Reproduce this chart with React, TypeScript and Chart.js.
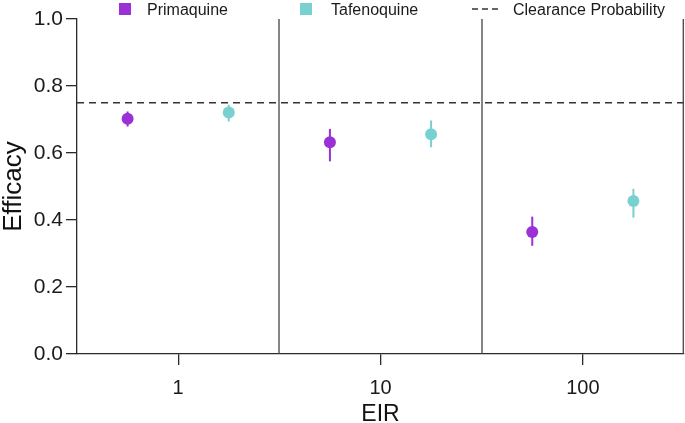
import React, { useEffect, useRef } from "react";
import { Chart, registerables } from "chart.js";

Chart.register(...registerables);

const categories = ["1", "10", "100"];
const primaquine = [0.702, 0.632, 0.364];
const primaquineLow = [0.679, 0.575, 0.323];
const primaquineHigh = [0.724, 0.672, 0.41];
const tafenoquine = [0.721, 0.656, 0.457];
const tafenoquineLow = [0.694, 0.617, 0.407];
const tafenoquineHigh = [0.744, 0.697, 0.493];
const clearanceProbability = 0.75;
const yTicks = [0, 0.2, 0.4, 0.6, 0.8, 1.0];

const PRIM = "#9a30d6";
const TAF = "#78d0d0";
const FONT = '"Liberation Sans", Arial, sans-serif';
const AXIS = "#2a2a2a";

export default function App() {
  const ref = useRef<HTMLCanvasElement | null>(null);

  useEffect(() => {
    document.body.style.margin = "0";
    const canvas = ref.current!;

    const decor = {
      id: "decor",
      beforeDatasetsDraw(chart: any) {
        const { ctx, scales } = chart;
        const xs = scales.x, ys = scales.y;
        ctx.save();
        ctx.lineWidth = 2;
        const bars = [
          { lo: primaquineLow, hi: primaquineHigh, off: 0.25, c: PRIM },
          { lo: tafenoquineLow, hi: tafenoquineHigh, off: 0.75, c: TAF },
        ];
        bars.forEach((b) => {
          ctx.strokeStyle = b.c;
          b.lo.forEach((lo, i) => {
            const x = xs.getPixelForValue(i + b.off);
            ctx.beginPath();
            ctx.moveTo(x, ys.getPixelForValue(lo));
            ctx.lineTo(x, ys.getPixelForValue(b.hi[i]));
            ctx.stroke();
          });
        });
        ctx.restore();
      },
      afterDraw(chart: any) {
        const { ctx, scales, chartArea } = chart;
        const xs = scales.x;
        ctx.save();
        // panel dividers and right border
        ctx.strokeStyle = "#444";
        ctx.lineWidth = 1.3;
        [1, 2, 3].forEach((v) => {
          const x = Math.round(xs.getPixelForValue(v)) - (v === 3 ? 0.7 : 0);
          ctx.beginPath();
          ctx.moveTo(x, chartArea.top);
          ctx.lineTo(x, chartArea.bottom);
          ctx.stroke();
        });
        // axis titles
        ctx.fillStyle = "#111";
        ctx.font = `23px ${FONT}`;
        ctx.textAlign = "center";
        ctx.textBaseline = "alphabetic";
        ctx.fillText("EIR", (chartArea.left + chartArea.right) / 2, 421);
        ctx.save();
        ctx.translate(21, (chartArea.top + chartArea.bottom) / 2);
        ctx.rotate(-Math.PI / 2);
        ctx.font = `26px ${FONT}`;
        ctx.fillText("Efficacy", 0, 0);
        ctx.restore();
        // legend
        ctx.font = `16px ${FONT}`;
        ctx.textAlign = "left";
        ctx.fillStyle = PRIM;
        ctx.fillRect(119, 3, 12, 12);
        ctx.fillStyle = TAF;
        ctx.fillRect(300, 3, 12, 12);
        ctx.strokeStyle = "#333";
        ctx.lineWidth = 1.3;
        ctx.setLineDash([6, 4]);
        ctx.beginPath();
        ctx.moveTo(472, 9);
        ctx.lineTo(501, 9);
        ctx.stroke();
        ctx.setLineDash([]);
        ctx.fillStyle = "#1a1a1a";
        ctx.fillText("Primaquine", 147, 14.5);
        ctx.fillText("Tafenoquine", 331, 14.5);
        ctx.fillText("Clearance Probability", 513, 14.5);
        ctx.restore();
      },
    };

    const chart = new Chart(canvas, {
      type: "scatter",
      data: {
        datasets: [
          {
            type: "line",
            label: "Clearance Probability",
            data: [
              { x: 0, y: clearanceProbability },
              { x: categories.length, y: clearanceProbability },
            ],
            borderColor: "#333",
            borderWidth: 1.5,
            borderDash: [7, 5],
            pointRadius: 0,
            fill: false,
          } as any,
          {
            label: "Primaquine",
            data: primaquine.map((v, i) => ({ x: i + 0.25, y: v })),
            backgroundColor: PRIM,
            borderColor: PRIM,
            pointRadius: 6,
            pointBorderWidth: 0,
          },
          {
            label: "Tafenoquine",
            data: tafenoquine.map((v, i) => ({ x: i + 0.75, y: v })),
            backgroundColor: TAF,
            borderColor: TAF,
            pointRadius: 6,
            pointBorderWidth: 0,
          },
        ],
      },
      plugins: [decor],
      options: {
        animation: false,
        responsive: true,
        maintainAspectRatio: false,
        layout: { autoPadding: false, padding: { top: 19, right: 1, left: 0, bottom: 0 } },
        plugins: { legend: { display: false }, tooltip: { enabled: false } },
        scales: {
          x: {
            type: "linear",
            min: 0,
            max: categories.length,
            afterBuildTicks: (scale: any) => {
              scale.ticks = categories.map((_, i) => ({ value: i + 0.5 }));
            },
            afterFit: (scale: any) => {
              scale.height = 69;
              scale.paddingLeft = 0;
              scale.paddingRight = 0;
            },
            ticks: {
              callback: (_v: any, i: number) => categories[i],
              font: { size: 20, family: FONT },
              color: "#1a1a1a",
              padding: 11,
              autoSkip: false,
              maxRotation: 0,
            },
            grid: {
              drawOnChartArea: false,
              drawTicks: true,
              tickLength: 11,
              color: AXIS,
              lineWidth: 1.3,
            },
            border: { display: true, color: AXIS, width: 1.3 },
          },
          y: {
            min: 0,
            max: 1,
            afterBuildTicks: (scale: any) => {
              scale.ticks = yTicks.map((v) => ({ value: v }));
            },
            afterFit: (scale: any) => {
              scale.width = 77;
              scale.paddingTop = 0;
              scale.paddingBottom = 0;
            },
            ticks: {
              callback: (v: any) => Number(v).toFixed(1),
              font: { size: 21, family: FONT },
              color: "#1a1a1a",
              padding: 3,
            },
            grid: {
              drawOnChartArea: false,
              drawTicks: true,
              tickLength: 11,
              color: AXIS,
              lineWidth: 1.3,
            },
            border: { display: true, color: AXIS, width: 1.3 },
          },
        },
      },
    });
    return () => chart.destroy();
  }, []);

  return (
    <div style={{ width: 685, height: 423, position: "relative" }}>
      <canvas ref={ref} />
    </div>
  );
}
